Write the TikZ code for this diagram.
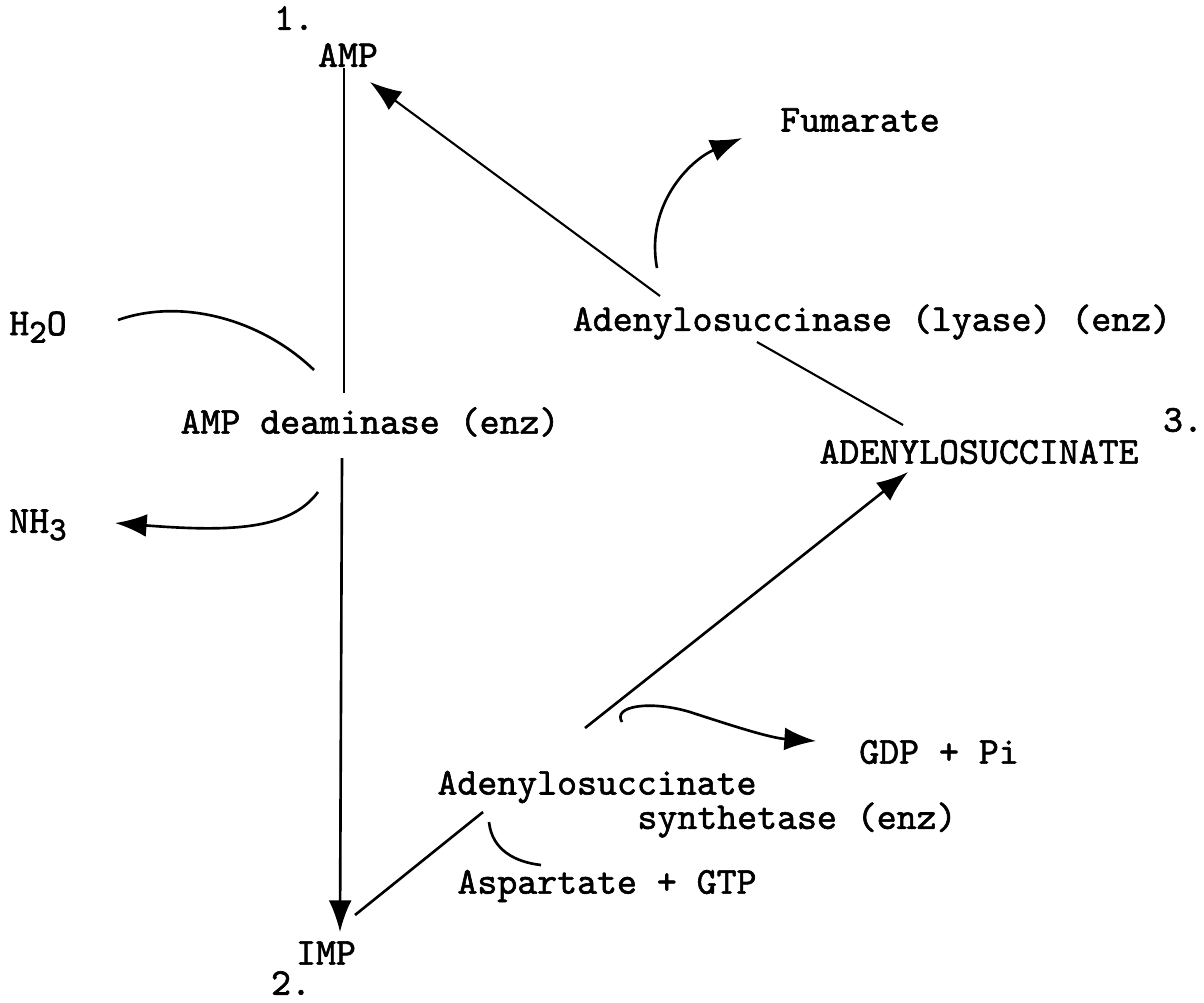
\documentclass[tikz,border=0pt]{standalone}
\usepackage{fontspec}
\newfontfamily\twfont{Latin Modern Mono}[FakeBold=1.6]
\usetikzlibrary{arrows.meta}
\newcommand\chemsub[1]{\raisebox{-0.45ex}{\fontsize{9.5}{10}\selectfont #1}}
\begin{document}
\begin{tikzpicture}[x=0.01cm,y=-0.01cm,
  lbl/.style={font=\twfont\fontsize{10.8}{12}\selectfont, inner sep=0pt},
  conn/.style={line width=0.75pt},
  thinconn/.style={line width=0.6pt},
  arr/.style={conn,-{Latex[length=9pt,width=6.5pt]}}]
\useasboundingbox (0,0) rectangle (1204,1002);
% labels
\node[lbl] (n1) at (294,18) {1.};
\node[lbl] (amp) at (348,55) {AMP};
\node[lbl] (fum) at (860,120) {Fumarate};
\node[lbl] (h2o) at (38,327) {H\chemsub{2}O};
\node[lbl] (lyase) at (872,322) {Adenylosuccinase (lyase) (enz)};
\node[lbl] (deam) at (370,422) {AMP deaminase (enz)};
\node[lbl] (n3) at (1183,420) {3.};
\node[lbl] (ads) at (979,452) {ADENYLOSUCCINATE};
\node[lbl] (nh3) at (38,525) {NH\chemsub{3}};
\node[lbl] (gdp) at (939,752) {GDP + Pi};
\node[lbl] (syn1) at (597,787) {Adenylosuccinate};
\node[lbl] (syn2) at (797,820) {synthetase (enz)};
\node[lbl] (asp) at (607,886) {Aspartate + GTP};
\node[lbl] (imp) at (326,953) {IMP};
\node[lbl] (n2) at (291,983) {2.};
% connector end points
\coordinate (a1) at (344,68);
\coordinate (a2) at (344,393);
\coordinate (a3) at (342,458);
\coordinate (a4) at (340,932);
\coordinate (l1) at (660,296);
\coordinate (l2) at (370,82);
\coordinate (l3) at (757,342);
\coordinate (l4) at (903,425);
\coordinate (f1) at (657,268);
\coordinate (f2) at (742,138);
\coordinate (h1) at (118,320);
\coordinate (h2) at (314,370);
\coordinate (nA) at (318,492);
\coordinate (nB) at (115,523);
\coordinate (i1) at (355,915);
\coordinate (i2) at (483,812);
\coordinate (s1) at (489,822);
\coordinate (s2) at (541,865);
\coordinate (s3) at (585,728);
\coordinate (s4) at (908,472);
\coordinate (g1) at (622,722);
\coordinate (g2) at (816,741);
% connectors
\draw[conn] (a1) -- (a2);
\draw[arr] (a3) -- (a4);
\draw[thinconn,-{Latex[length=9pt,width=6.5pt]}] (l1) -- (l2);
\draw[thinconn] (l3) -- (l4);
\draw[arr] (f1) .. controls (645,205) and (690,160) .. (f2);
\draw[conn] (h1) .. controls (180,298) and (260,318) .. (h2);
\draw[arr] (nA) .. controls (290,530) and (230,532) .. (nB);
\draw[conn] (i1) -- (i2);
\draw[conn] (s1) .. controls (492,850) and (515,862) .. (s2);
\draw[arr] (s3) -- (s4);
\draw[arr] (g1) .. controls (612,706) and (650,700) .. (690,712) .. controls (730,725) and (770,738) .. (g2);
\end{tikzpicture}
\end{document}
